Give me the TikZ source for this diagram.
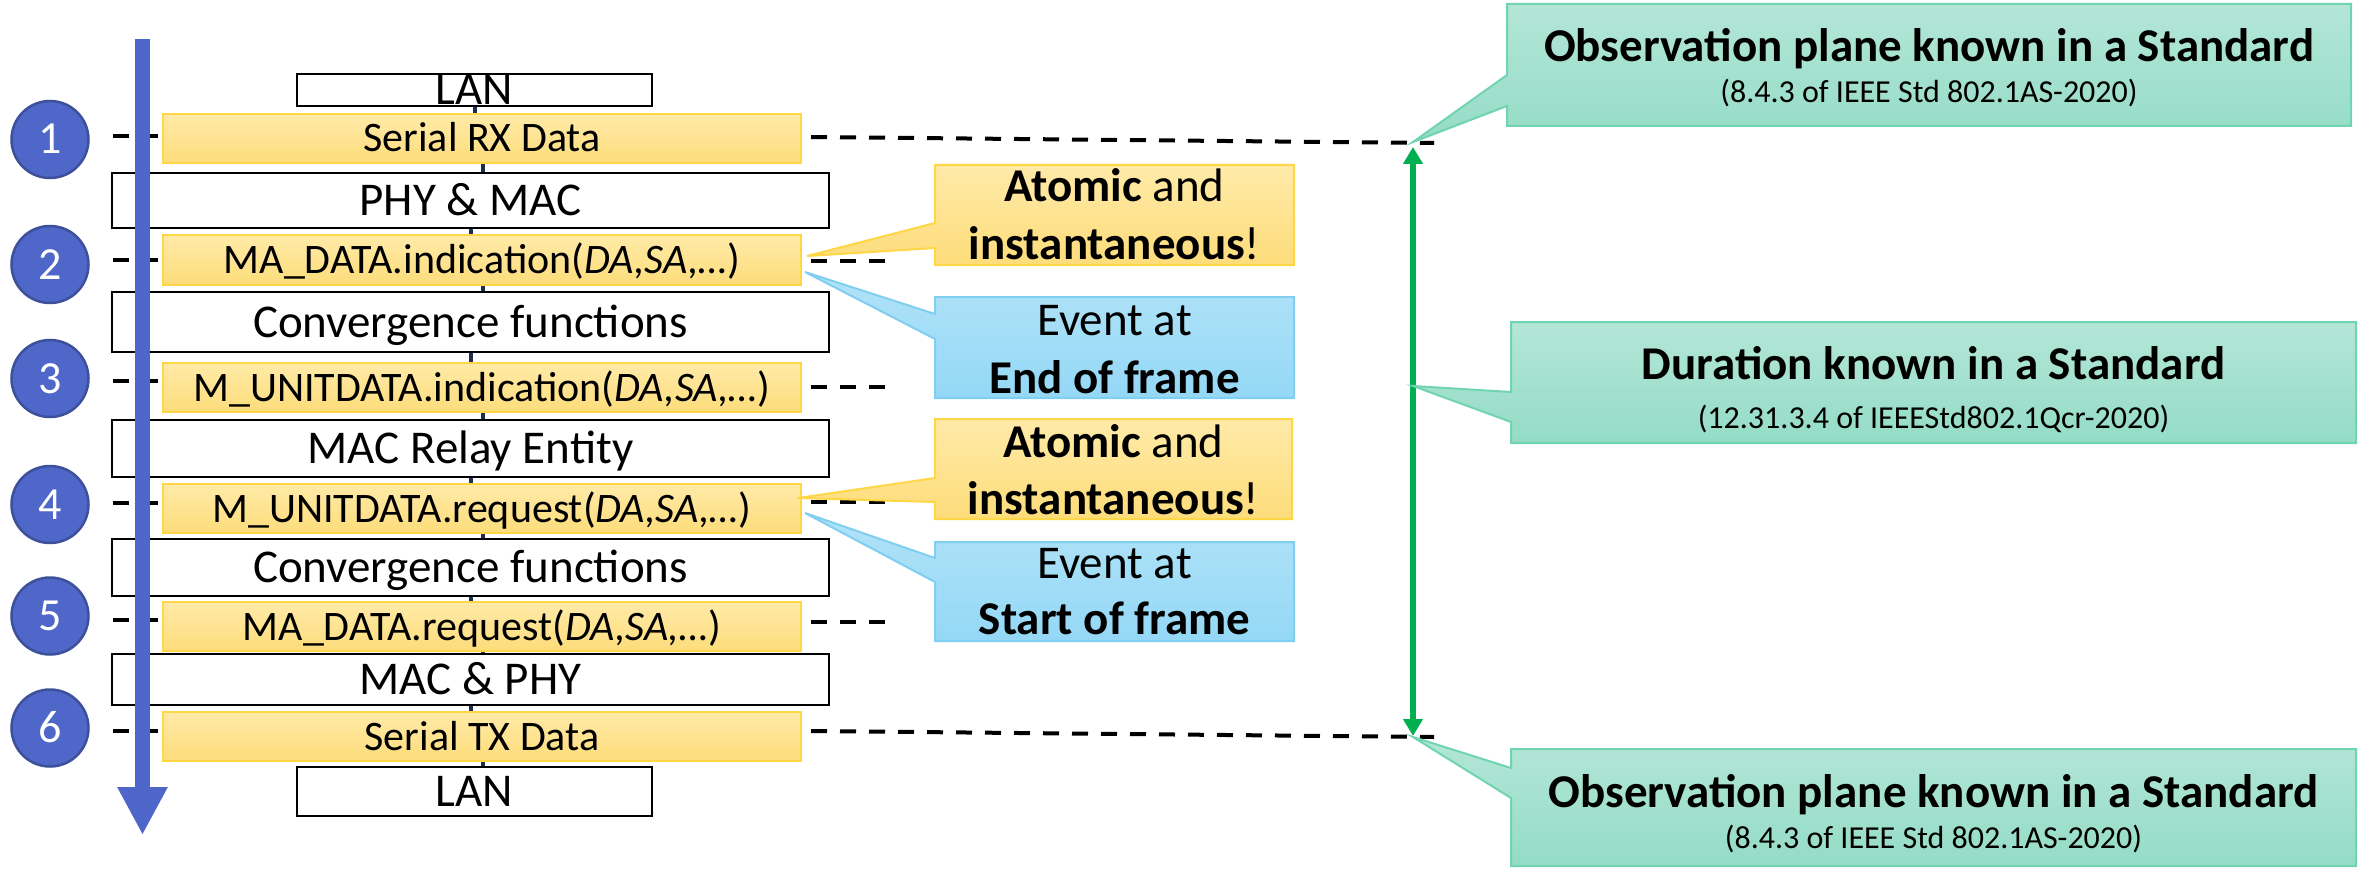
\documentclass[tikz,border=0pt]{standalone}
\usepackage{fontspec}
\setmainfont{Carlito}
\usetikzlibrary{arrows.meta,shadings}
\definecolor{cfill}{RGB}{79,103,200}
\definecolor{cbord}{RGB}{60,80,155}
\definecolor{flowc}{RGB}{78,102,201}
\definecolor{ytop}{RGB}{255,234,168}
\definecolor{ybot}{RGB}{253,220,122}
\definecolor{ybord}{RGB}{255,214,70}
\definecolor{btop}{RGB}{178,227,248}
\definecolor{bbot}{RGB}{148,216,246}
\definecolor{bbord}{RGB}{128,206,240}
\definecolor{gtop}{RGB}{180,230,215}
\definecolor{gbot}{RGB}{148,220,198}
\definecolor{gbord}{RGB}{112,212,178}
\definecolor{garr}{RGB}{0,176,80}
\definecolor{navy}{RGB}{31,45,80}
\begin{document}
\begin{tikzpicture}[x=1pt,y=-1pt,
  wbox/.style={draw=black, line width=2.5pt, fill=white, inner sep=0pt, text height=30pt, text depth=0pt, font=\fontsize{47}{56}\selectfont, minimum width=717pt},
  ybox/.style={draw=ybord, line width=2pt, top color=ytop, bottom color=ybot, inner sep=0pt, text height=27pt, text depth=0pt, font=\fontsize{42}{50}\selectfont, minimum width=638pt, minimum height=49pt},
  num/.style={circle, draw=cbord, line width=2.5pt, fill=cfill, text=white, minimum size=77pt, inner sep=0pt, text height=29pt, text depth=0pt, font=\fontsize{46}{55}\selectfont},
  obs/.style={line width=4pt, dash pattern=on 16pt off 13pt},
  calY/.style={draw=ybord, line width=2pt, top color=ytop, bottom color=ybot},
  calB/.style={draw=bbord, line width=2pt, top color=btop, bottom color=bbot},
  calG/.style={draw=gbord, line width=2pt, top color=gtop, bottom color=gbot},
  ctext/.style={anchor=base, inner sep=0pt, font=\fontsize{47}{56}\selectfont},
  stext/.style={anchor=base, inner sep=0pt, font=\fontsize{32}{38}\selectfont},
]
\useasboundingbox (0,0) rectangle (2361,869);

% white layer boxes
\node[wbox, minimum width=355pt, minimum height=32pt] (lanT) at (474.5,90) {LAN};
\node[wbox, minimum height=55pt] (phy) at (470.5,200.5) {PHY \& MAC};
\node[wbox, minimum height=60pt] (cv1) at (470.5,322) {Convergence functions};
\node[wbox, minimum height=57pt] (relay) at (470.5,448.5) {MAC Relay Entity};
\node[wbox, minimum height=57pt] (cv2) at (470.5,567.5) {Convergence functions};
\node[wbox, minimum height=51pt] (macphy) at (470.5,679.5) {MAC \& PHY};
\node[wbox, minimum width=355pt, minimum height=49pt] (lanB) at (474.5,791.5) {LAN};

% dashed observation lines (left)
\coordinate (dl1) at (113,136);
\coordinate (dl2) at (113,260);
\coordinate (dl3) at (113,381);
\coordinate (dl4) at (113,503);
\coordinate (dl5) at (113,620);
\coordinate (dl6) at (113,731);

% yellow primitive boxes
\node[ybox] (y1) at (482,138.5) {Serial RX Data};
\node[ybox, minimum height=50pt] (y2) at (482,260) {MA\_DATA.indication(\textit{DA,SA,…})};
\node[ybox] (y3) at (482,387.5) {M\_UNITDATA.indication(\textit{DA,SA,…})};
\node[ybox] (y4) at (482,508.5) {M\_UNITDATA.request(\textit{DA,SA,…})};
\node[ybox] (y5) at (482,626.5) {MA\_DATA.request(\textit{DA,SA,…})};
\node[ybox] (y6) at (482,736.5) {Serial TX Data};

% stack connector segments between boxes
\foreach \a/\b in {lanT/y1, y1/phy, phy/y2, y2/cv1, cv1/y3, y3/relay, relay/y4, y4/cv2, cv2/y5, y5/macphy, macphy/y6, y6/lanB}
  \draw[navy, line width=4pt] ([xshift=0.5pt]\a.south) -- ([xshift=0.5pt]\a.south |- \b.north);

\foreach \i in {1,...,6}
  \draw[obs] (dl\i) -- (dl\i -| y\i.west);

% right dashed lines
\coordinate (r1) at (1434,143);
\coordinate (r2) at (887,261);
\coordinate (r3) at (887,387);
\coordinate (r4) at (887,502);
\coordinate (r5) at (887,622);
\coordinate (r6) at (1434,737);
\draw[obs] ([xshift=9pt]y1.east |- 0,137) -- (r1);
\draw[obs] ([xshift=9pt]y2.east |- r2) -- (r2);
\draw[obs] ([xshift=9pt]y3.east |- r3) -- (r3);
\draw[obs] ([xshift=9pt]y4.east |- r4) -- (r4);
\draw[obs] ([xshift=9pt]y5.east |- r5) -- (r5);
\draw[obs] ([xshift=9pt]y6.east |- 0,731) -- (r6);

% numbered circles
\node[num] (n1) at (50,139.5) {1};
\node[num] (n2) at (50,264.5) {2};
\node[num] (n3) at (50,378.5) {3};
\node[num] (n4) at (50,504.5) {4};
\node[num] (n5) at (50,616) {5};
\node[num] (n6) at (50,728) {6};

% processing flow arrow
\coordinate (atop) at (142.5,39);
\coordinate (abot) at (142.5,835);
\draw[flowc, line width=15pt, -{Triangle[length=48pt,width=47pt]}] (atop) -- (abot);

% green duration arrow
\coordinate (gaT) at (1413,147);
\coordinate (gaB) at (1413,736);
\draw[garr, line width=6pt, {Triangle[length=17pt,width=19pt]}-{Triangle[length=17pt,width=19pt]}] (gaT) -- (gaB);

% callout pointer tips
\coordinate (tYA) at (807,256);
\coordinate (tBA) at (805,272);
\coordinate (tYB) at (798,498);
\coordinate (tBB) at (805,513);
\coordinate (tGT) at (1413,142);
\coordinate (tGM) at (1413,386);
\coordinate (tGB) at (1413,737);

% callouts
\shade[calY] (935,165) -- (1294,165) -- (1294,265) -- (935,265) -- (935,248) -- (tYA) -- (935,223) -- cycle;
\shade[calB] (935,297) -- (1294,297) -- (1294,398) -- (935,398) -- (935,339) -- (tBA) -- (935,314) -- cycle;
\shade[calY] (935,419) -- (1292,419) -- (1292,519) -- (935,519) -- (935,502) -- (tYB) -- (935,478) -- cycle;
\shade[calB] (935,542) -- (1294,542) -- (1294,641) -- (935,641) -- (935,582) -- (tBB) -- (935,558) -- cycle;
\shade[calG] (1507,4) -- (2351,4) -- (2351,126) -- (1507,126) -- (1507,106) -- (tGT) -- (1507,75) -- cycle;
\shade[calG] (1511,322) -- (2356,322) -- (2356,443) -- (1511,443) -- (1511,422) -- (tGM) -- (1511,392) -- cycle;
\shade[calG] (1511,749) -- (2356,749) -- (2356,866) -- (1511,866) -- (1511,798) -- (tGB) -- (1511,768) -- cycle;

% callout texts
\node[ctext] (ya1) at (1114.5,202) {\textbf{Atomic} and};
\node[ctext] (ya2) at (1114.5,259) {\textbf{instantaneous}!};
\node[ctext] (ba1) at (1114.5,335) {Event at};
\node[ctext] (ba2) at (1114.5,393) {\textbf{End of frame}};
\node[ctext] (yb1) at (1113.5,457) {\textbf{Atomic} and};
\node[ctext] (yb2) at (1113.5,514) {\textbf{instantaneous}!};
\node[ctext] (bb1) at (1114.5,578) {Event at};
\node[ctext] (bb2) at (1114.5,634) {\textbf{Start of frame}};
\node[ctext] (gt1) at (1929,62) {\textbf{Observation plane known in a Standard}};
\node[stext] (gt2) at (1929,103) {(8.4.3 of IEEE Std 802.1AS-2020)};
\node[ctext] (gm1) at (1933.5,379) {\textbf{Duration known in a Standard}};
\node[stext] (gm2) at (1933.5,428) {(12.31.3.4 of IEEEStd802.1Qcr-2020)};
\node[ctext] (gb1) at (1933.5,807) {\textbf{Observation plane known in a Standard}};
\node[stext] (gb2) at (1933.5,848) {(8.4.3 of IEEE Std 802.1AS-2020)};
\end{tikzpicture}
\end{document}
